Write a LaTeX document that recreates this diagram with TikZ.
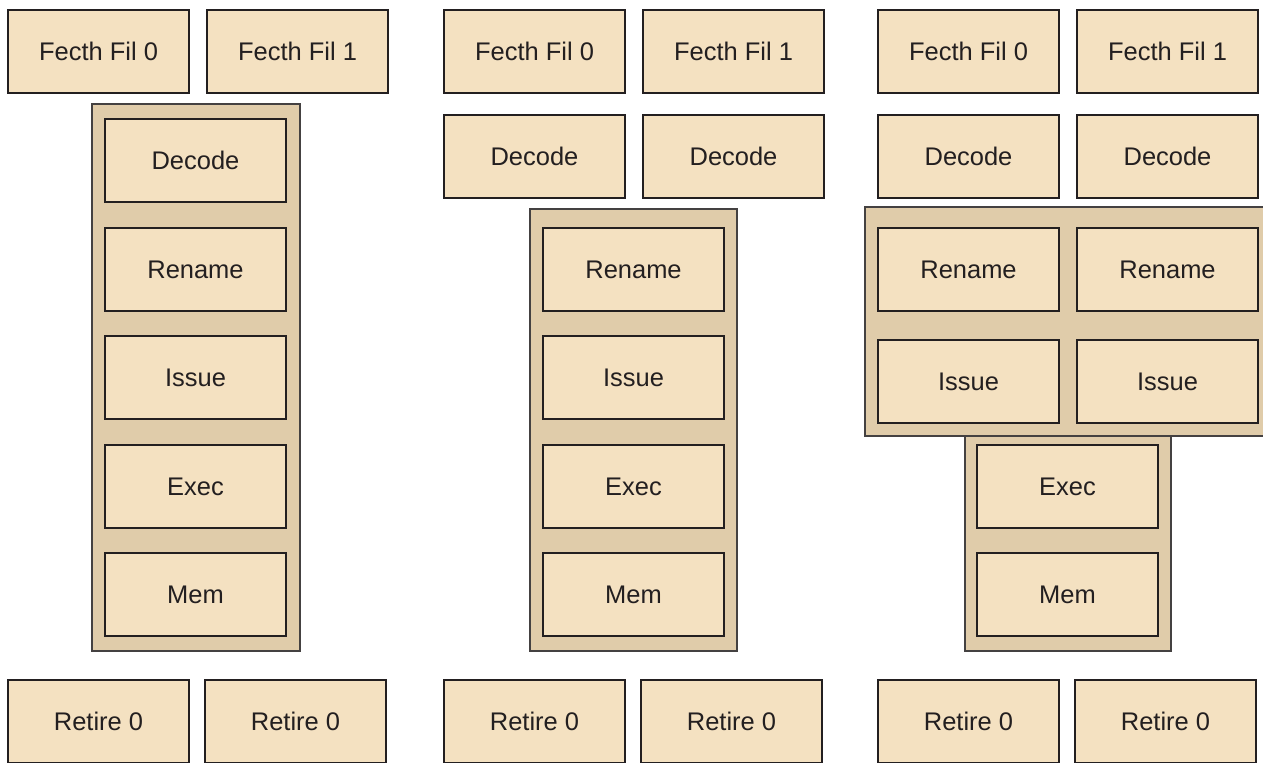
\documentclass[tikz,border=0pt]{standalone}
\usepackage{fontspec}
\setmainfont{Liberation Sans}
\usepackage{tikz}
\usetikzlibrary{positioning,backgrounds}
\definecolor{stagefill}{HTML}{F4E1C1}
\definecolor{groupfill}{HTML}{E0CCAA}
\definecolor{edgecol}{HTML}{231F20}
\tikzset{
  stage/.style={draw=edgecol,fill=stagefill,line width=0.04cm,
                minimum width=3.62cm,minimum height=1.66cm,inner sep=0pt,
                text=edgecol,font=\fontsize{14.5}{16}\selectfont},
  group/.style={draw=edgecol!85,fill=groupfill,line width=0.035cm}
}
\begin{document}
\begin{tikzpicture}[x=0.02cm,y=-0.02cm]
  \clip (0,0) rectangle (1263,762);

  % shared groups
  \draw[group] (92,104) rectangle (300,651);
  \draw[group] (530,209) rectangle (737,651);
  \draw[group] (865,207) rectangle (1275,436);
  \draw[group] (965,436) rectangle (1171,651);

  % first pipeline
  \node[stage] (fa0) at (98.5,51.5) {Fecth Fil 0};
  \node[stage] (fa1) at (297.5,51.5) {Fecth Fil 1};
  \node[stage] (deca) at (195.5,160.5) {Decode};
  \node[stage] (rena) at (195.5,269.5) {Rename};
  \node[stage] (issa) at (195.5,377.5) {Issue};
  \node[stage] (exa) at (195.5,486.5) {Exec};
  \node[stage] (mema) at (195.5,594.5) {Mem};
  \node[stage] (ra0) at (98.5,721.5) {Retire 0};
  \node[stage] (ra1) at (295.5,721.5) {Retire 0};

  % second pipeline
  \node[stage] (fb0) at (534.5,51.5) {Fecth Fil 0};
  \node[stage] (fb1) at (733.5,51.5) {Fecth Fil 1};
  \node[stage] (decb0) at (534.5,156.5) {Decode};
  \node[stage] (decb1) at (733.5,156.5) {Decode};
  \node[stage] (renb) at (633.5,269.5) {Rename};
  \node[stage] (issb) at (633.5,377.5) {Issue};
  \node[stage] (exb) at (633.5,486.5) {Exec};
  \node[stage] (memb) at (633.5,594.5) {Mem};
  \node[stage] (rb0) at (534.5,721.5) {Retire 0};
  \node[stage] (rb1) at (731.5,721.5) {Retire 0};

  % third pipeline
  \node[stage] (fc0) at (968.5,51.5) {Fecth Fil 0};
  \node[stage] (fc1) at (1167.5,51.5) {Fecth Fil 1};
  \node[stage] (decc0) at (968.5,156.5) {Decode};
  \node[stage] (decc1) at (1167.5,156.5) {Decode};
  \node[stage] (renc0) at (968.5,269.5) {Rename};
  \node[stage] (renc1) at (1167.5,269.5) {Rename};
  \node[stage] (issc0) at (968.5,381.5) {Issue};
  \node[stage] (issc1) at (1167.5,381.5) {Issue};
  \node[stage] (exc) at (1067.5,486.5) {Exec};
  \node[stage] (memc) at (1067.5,594.5) {Mem};
  \node[stage] (rc0) at (968.5,721.5) {Retire 0};
  \node[stage] (rc1) at (1165.5,721.5) {Retire 0};
\end{tikzpicture}
\end{document}
